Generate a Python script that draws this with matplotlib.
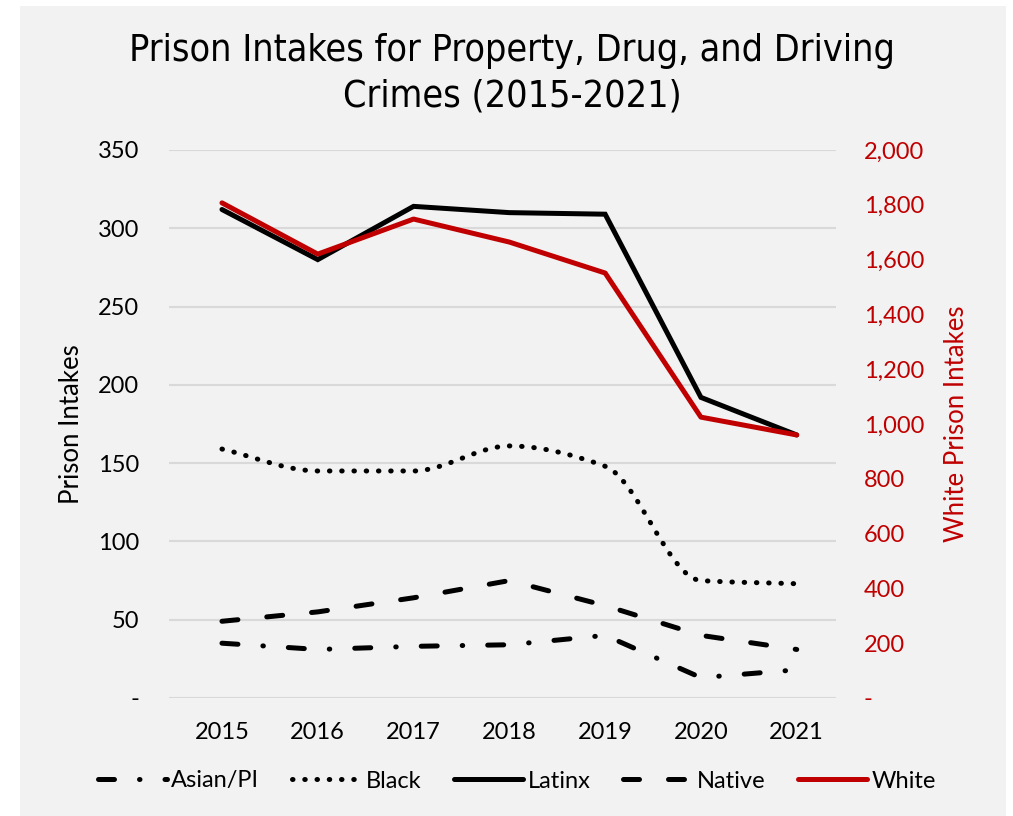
import matplotlib
matplotlib.use("Agg")
import matplotlib.pyplot as plt
from matplotlib.patches import Rectangle, PathPatch
from matplotlib.path import Path
from matplotlib.lines import Line2D
from matplotlib.ticker import FuncFormatter

years = ["2015", "2016", "2017", "2018", "2019", "2020", "2021"]
asian = [35, 31, 33, 34, 40, 13, 18]
black = [159, 145, 145, 161, 148, 75, 73]
latinx = [312, 280, 314, 310, 309, 192, 168]
native = [49, 55, 64, 75, 59, 40, 31]
white = [1807, 1620, 1748, 1664, 1551, 1025, 960]

left_ticks = [0, 50, 100, 150, 200, 250, 300, 350]
right_ticks = [0, 200, 400, 600, 800, 1000, 1200, 1400, 1600, 1800, 2000]

RED = "#c00000"
BG = "#f2f2f2"
FONT = "Lato"
plt.rcParams['font.family'] = [FONT, 'DejaVu Sans']

fig = plt.figure(figsize=(10.13, 8.16), dpi=100)
fig.patch.set_facecolor("white")
fig.patches.append(Rectangle((20 / 1013, 0), (1006 - 20) / 1013, 1 - 6 / 816,
                             transform=fig.transFigure, facecolor=BG,
                             edgecolor="none", zorder=-10))

W, H = 1013, 816
left, right, top, bottom = 169, 836, 150, 698
ax = fig.add_axes([left / W, 1 - bottom / H, (right - left) / W, (bottom - top) / H])
ax.set_facecolor("none")
ax2 = ax.twinx()

x = list(range(len(years)))
lw = 3.6
dash_asian = (3.2, 5.0, 0.1, 5.0)
dash_black = (0.1, 2.35)
dash_native = (3.2, 5.8)


def smooth_path(xs, ys):
    """Smoothed line drawn as cubic Bezier segments through the data points
    (monotone tangents, so flat stretches stay flat)."""
    n = len(xs)
    d = [(ys[i + 1] - ys[i]) / (xs[i + 1] - xs[i]) for i in range(n - 1)]
    m = [0.0] * n
    m[0], m[-1] = d[0], d[-1]
    for k in range(1, n - 1):
        if d[k - 1] * d[k] <= 0:
            m[k] = 0.0
        else:
            m[k] = 2.0 / (1.0 / d[k - 1] + 1.0 / d[k])
    verts = [(xs[0], ys[0])]
    codes = [Path.MOVETO]
    for i in range(n - 1):
        h = xs[i + 1] - xs[i]
        c1 = (xs[i] + h / 3, ys[i] + m[i] * h / 3)
        c2 = (xs[i + 1] - h / 3, ys[i + 1] - m[i + 1] * h / 3)
        verts += [c1, c2, (xs[i + 1], ys[i + 1])]
        codes += [Path.CURVE4] * 3
    return Path(verts, codes)


ax.plot(x, asian, color="black", lw=lw, dashes=dash_asian, dash_capstyle="round",
        zorder=3)
black_patch = PathPatch(smooth_path(x, black), facecolor="none", edgecolor="black",
                        lw=lw, capstyle="round", zorder=3)
black_patch.set_linestyle((0, dash_black))
ax.add_patch(black_patch)
ax.plot(x, latinx, color="black", lw=lw, solid_capstyle="round", solid_joinstyle="miter",
        zorder=3)
ax.plot(x, native, color="black", lw=lw, dashes=dash_native, dash_capstyle="round",
        zorder=3)
ax2.plot(x, white, color=RED, lw=lw, solid_capstyle="round", zorder=3)

ax.set_xlim(-0.553, 6.41)
ax.set_ylim(0, 350)
ax2.set_ylim(0, 2000)
ax.set_yticks(left_ticks)
ax2.set_yticks(right_ticks)
ax.yaxis.set_major_formatter(FuncFormatter(lambda v, p: "-" if v == 0 else f"{int(v)}"))
ax2.yaxis.set_major_formatter(FuncFormatter(lambda v, p: "-" if v == 0 else f"{int(v):,}"))
ax.set_xticks(x)
ax.set_xticklabels(years)

ax.grid(axis="y", color="#d9d9d9", lw=1.5, zorder=0)
ax.set_axisbelow(True)
for a in (ax, ax2):
    for s in a.spines.values():
        s.set_visible(False)
ax.tick_params(axis="both", length=0, labelsize=17, colors="black")
ax.tick_params(axis="y", pad=21.5)
ax.tick_params(axis="x", pad=17)
ax2.tick_params(axis="y", length=0, labelsize=17, colors=RED, pad=20)

ax.set_ylabel("Prison Intakes", fontsize=18.5, labelpad=10)
ax2.set_ylabel("White Prison Intakes", fontsize=18.5, color=RED, labelpad=14)

fig.text(512 / W, 1 - 74 / H, "Prison Intakes for Property, Drug, and Driving\nCrimes (2015-2021)",
         ha="center", va="center", fontsize=27, linespacing=1.35,
         family=["DejaVu Sans"], fontstretch="condensed", fontweight="light")

handles = [
    Line2D([], [], color="black", lw=lw, dashes=dash_asian, dash_capstyle="round"),
    Line2D([], [], color="black", lw=lw, dashes=dash_black, dash_capstyle="round"),
    Line2D([], [], color="black", lw=lw, solid_capstyle="round"),
    Line2D([], [], color="black", lw=lw, dashes=dash_native, dash_capstyle="round"),
    Line2D([], [], color=RED, lw=lw, solid_capstyle="round"),
]
labels = ["Asian/PI", "Black", "Latinx", "Native", "White"]
fig.legend(handles, labels, loc="center", bbox_to_anchor=(517 / W, 1 - 781 / H),
           ncol=5, frameon=False, fontsize=17, handlelength=2.9, handletextpad=0.2,
           columnspacing=1.4)

fig.savefig("out.png", dpi=100, facecolor=fig.get_facecolor())
